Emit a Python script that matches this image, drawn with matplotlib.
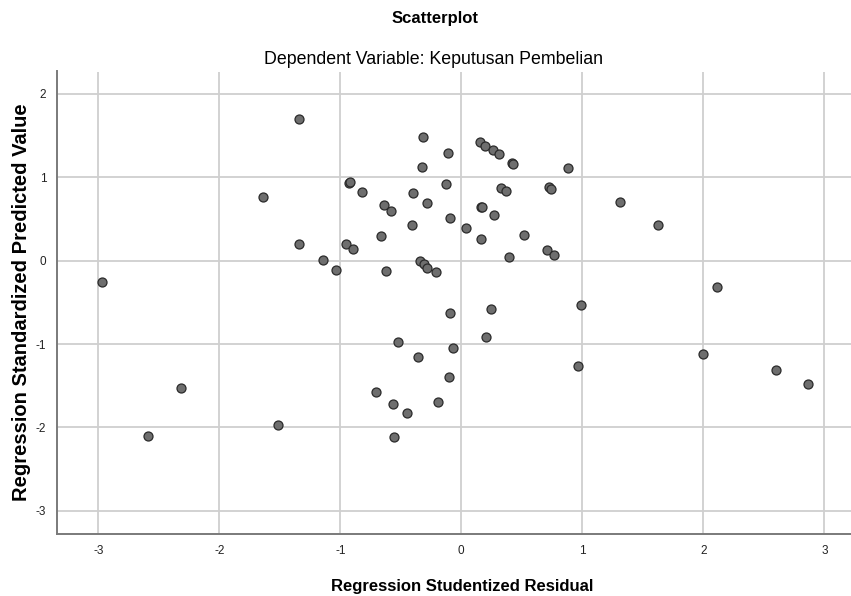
import matplotlib
matplotlib.use("Agg")
import matplotlib.pyplot as plt
from matplotlib import font_manager

residual = [-1.339, -1.639, -1.341, -1.145, -1.036, -2.967,
            -0.314, 0.155, 0.198, 0.265, 0.312, -0.112, 0.416, 0.430, 0.884,
            -0.325, -0.928, -0.922, -0.126, -0.821, -0.397, 0.331, 0.367, 0.727,
            0.739, -0.639, -0.578, -0.286, 0.165, 0.170, 0.273, -0.091, -0.405,
            0.036, 0.518, -0.661, 0.163, -0.955, -0.895, 0.706, 0.764, 0.394,
            -0.341, -0.306, -0.283, -0.620, -0.209, 0.989,
            1.312, 1.626, 2.116,
            -0.091, 0.245, 0.201, -0.526, -0.069, -0.361, 0.962, -0.099,
            -0.708, -0.562, -0.193, -0.449, -0.553,
            -2.316, -2.589, -1.517,
            1.998, 2.603, 2.863]
predicted = [1.696, 0.764, 0.197, 0.005, -0.110, -0.260,
             1.487, 1.427, 1.379, 1.324, 1.276, 1.291, 1.175, 1.159, 1.115,
             1.120, 0.932, 0.940, 0.923, 0.827, 0.808, 0.872, 0.839, 0.887,
             0.863, 0.664, 0.596, 0.692, 0.647, 0.640, 0.544, 0.516, 0.424,
             0.392, 0.308, 0.296, 0.264, 0.204, 0.140, 0.128, 0.072, 0.041,
             -0.004, -0.043, -0.088, -0.120, -0.135, -0.531,
             0.700, 0.432, -0.319,
             -0.631, -0.583, -0.918, -0.979, -1.043, -1.151, -1.263, -1.394,
             -1.574, -1.714, -1.694, -1.826, -2.110,
             -1.530, -2.102, -1.966,
             -1.115, -1.307, -1.475]

xticks = [-3, -2, -1, 0, 1, 2, 3]
yticks = [-3, -2, -1, 0, 1, 2]

available = {f.name for f in font_manager.fontManager.ttflist}
narrow = "Liberation Sans Narrow" if "Liberation Sans Narrow" in available else "Liberation Sans"

fig = plt.figure(figsize=(8.51, 5.96), dpi=100)
W, H = 851, 596
left_px, right_px, top_px, bottom_px = 57.3, 851, 71.5, 534.3
ax = fig.add_axes([left_px / W, 1 - bottom_px / H,
                   (right_px - left_px) / W, (bottom_px - top_px) / H])

ax.scatter(residual, predicted, s=42, facecolor="#6e6e6e", edgecolor="#2a2a2a",
           linewidths=0.9, zorder=3)

x_unit, x0 = 121.0, 461.3
y_unit, y0 = 83.4, 260.7
ax.set_xlim((left_px - x0) / x_unit, (right_px - x0) / x_unit)
ax.set_ylim((y0 - bottom_px) / y_unit, (y0 - top_px) / y_unit)

ax.set_xticks(xticks)
ax.set_yticks(yticks)
ax.set_xticklabels([str(t) for t in xticks], fontfamily=narrow, fontsize=8.5)
ax.set_yticklabels([str(t) for t in yticks], fontfamily=narrow, fontsize=8.5)
ax.tick_params(length=0, pad=8, colors="#222222")
ax.grid(True, color="#cfcfcf", linewidth=1.3, zorder=0)
ax.set_axisbelow(True)
for s in ["top", "right"]:
    ax.spines[s].set_visible(False)
for s in ["left", "bottom"]:
    ax.spines[s].set_color("#7a7a7a")
    ax.spines[s].set_linewidth(1.4)

fig.text(435 / W, 1 - 19 / H, "Scatterplot", ha="center", va="center",
         fontfamily=narrow, fontweight="bold", fontsize=12)
fig.text(434 / W, 1 - 59 / H, "Dependent Variable: Keputusan Pembelian", ha="center",
         va="center", fontfamily=narrow, fontsize=12.8)
fig.text(462 / W, 1 - 586 / H, "Regression Studentized Residual", ha="center",
         va="center", fontfamily=narrow, fontweight="bold", fontsize=12)
fig.text(22 / W, 1 - 302 / H, "Regression Standardized Predicted Value", ha="center",
         va="center", rotation=90, fontfamily="Liberation Sans", fontweight="bold",
         fontsize=14.5)

fig.savefig("out.png", dpi=100)
